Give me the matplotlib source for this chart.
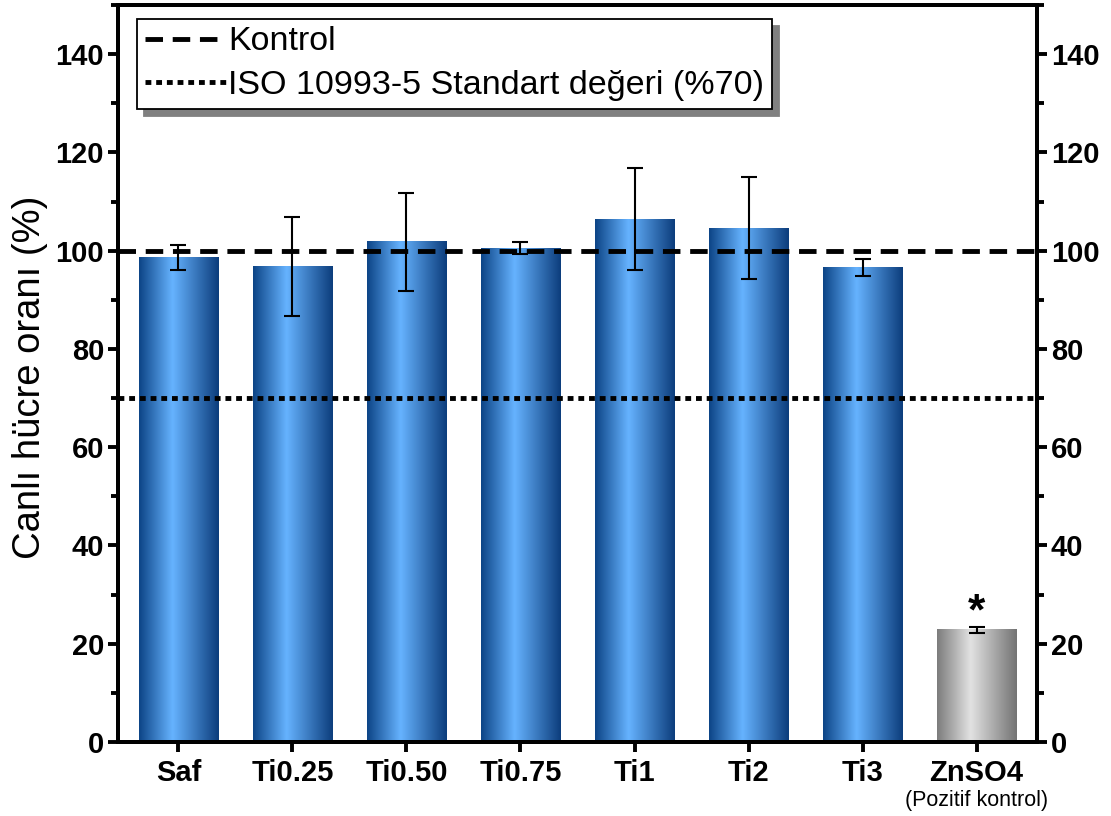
import numpy as np
import matplotlib
matplotlib.use("Agg")
import matplotlib.pyplot as plt
from matplotlib.colors import LinearSegmentedColormap
from matplotlib.ticker import MultipleLocator

plt.rcParams['font.family'] = ['Liberation Sans', 'DejaVu Sans']

# data
groups = ['Saf', 'Ti0.25', 'Ti0.50', 'Ti0.75', 'Ti1', 'Ti2', 'Ti3', 'ZnSO4']
viability = [98.6, 96.8, 101.8, 100.5, 106.4, 104.6, 96.5, 22.8]
errors = [2.6, 10.1, 10.0, 1.2, 10.4, 10.3, 1.7, 0.6]
control_level = 100
iso_level = 70
star_group = 'ZnSO4'

blue_cmap = LinearSegmentedColormap.from_list(
    'blue_bar', [(0, '#0c4486'), (0.42, '#66b3ff'), (1, '#0c3d7c')])
gray_cmap = LinearSegmentedColormap.from_list(
    'gray_bar', [(0, '#7c7c7c'), (0.42, '#e2e2e2'), (1, '#737373')])

fig = plt.figure(figsize=(11.11, 8.16), dpi=100)
ax = fig.add_axes([0.1062, 0.0907, 0.8272, 0.9032])

x = np.arange(len(groups))
bars = ax.bar(x, viability, width=0.7, color='none', zorder=2)
grad = np.linspace(0, 1, 256).reshape(1, -1)
for name, rect in zip(groups, bars):
    x0, w, h = rect.get_x(), rect.get_width(), rect.get_height()
    cmap = gray_cmap if name == 'ZnSO4' else blue_cmap
    ax.imshow(grad, extent=[x0, x0 + w, 0, h], cmap=cmap, aspect='auto',
              interpolation='bicubic', zorder=2)

ax.errorbar(x, viability, yerr=errors, fmt='none', ecolor='black',
            elinewidth=1.5, capsize=5.8, capthick=1.5, zorder=4)

kontrol = ax.axhline(control_level, color='black', lw=3.5,
                     linestyle=(0, (3.6, 2.0)), zorder=3, label='Kontrol')
iso = ax.axhline(iso_level, color='black', lw=3.5,
                 linestyle=(0, (1.2, 1.0)), zorder=3,
                 label='ISO 10993-5 Standart değeri (%70)')

i = groups.index(star_group)
ax.text(x[i], viability[i] + errors[i] - 1.2, '*', ha='center', va='bottom',
        fontsize=32, fontweight='bold')

ax.set_xlim(-0.53, len(groups) - 1 + 0.53)
ax.set_ylim(0, 150)
ax.set_xticks(x)
ax.set_xticklabels(groups, fontsize=21, fontweight='bold')
ax.text(x[-1], -0.079, '(Pozitif kontrol)', transform=ax.get_xaxis_transform(),
        ha='center', va='center', fontsize=15.5)

ax.yaxis.set_major_locator(MultipleLocator(20))
ax.yaxis.set_minor_locator(MultipleLocator(10))
ax.set_ylabel('Canlı hücre oranı (%)', fontsize=27.5)
ax.yaxis.set_label_coords(-0.076, 0.495)

ax2 = ax.twinx()
ax2.set_ylim(ax.get_ylim())
ax2.yaxis.set_major_locator(MultipleLocator(20))
ax2.yaxis.set_minor_locator(MultipleLocator(10))

for a in (ax, ax2):
    for sp in a.spines.values():
        sp.set_linewidth(2.8)
    a.tick_params(axis='y', which='major', direction='out', length=7, width=2.8,
                  labelsize=21, pad=3)
    a.tick_params(axis='y', which='minor', direction='out', length=5, width=2.8)
    for lab in a.get_yticklabels():
        lab.set_fontweight('bold')
ax.tick_params(axis='x', direction='out', length=7, width=2.8, pad=5)

leg = ax.legend(handles=[kontrol, iso], loc='upper left',
                bbox_to_anchor=(0.021, 0.981), borderaxespad=0,
                fontsize=24.5, handlelength=2.4, handletextpad=0.05,
                labelspacing=0.38, borderpad=0.22, fancybox=False,
                framealpha=1, edgecolor='black',
                shadow={'ox': 5, 'oy': -5, 'shade': 0.5, 'alpha': 1})
leg.get_frame().set_linewidth(1.3)
leg.set_zorder(6)

fig.savefig('out.png', dpi=100)
